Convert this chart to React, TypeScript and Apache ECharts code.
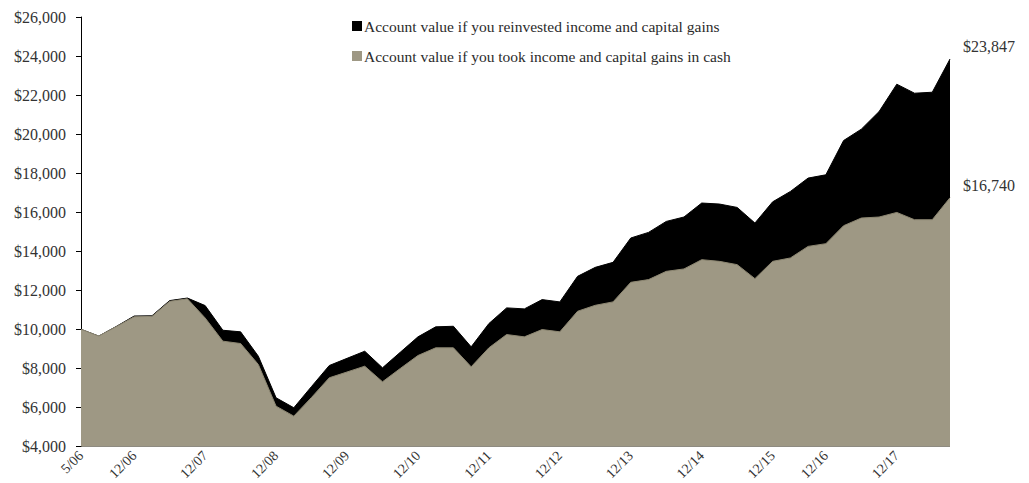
import React, { useEffect, useRef } from "react";
import * as echarts from "echarts";

const categories: string[] = [
  "5/06", "6/06", "9/06", "12/06",
  "3/07", "6/07", "9/07", "12/07",
  "3/08", "6/08", "9/08", "12/08",
  "3/09", "6/09", "9/09", "12/09",
  "3/10", "6/10", "9/10", "12/10",
  "3/11", "6/11", "9/11", "12/11",
  "3/12", "6/12", "9/12", "12/12",
  "3/13", "6/13", "9/13", "12/13",
  "3/14", "6/14", "9/14", "12/14",
  "3/15", "6/15", "9/15", "12/15",
  "6/16", "9/16", "12/16",
  "3/17", "6/17", "9/17", "12/17",
  "3/18", "6/18", "9/18",
];

const reinvested: number[] = [
  10000, 9650, 10150, 10680, 10690, 11470, 11600, 11215, 9950, 9870,
  8620, 6490, 5980, 7070, 8144, 8510, 8876, 8026, 8820, 9612,
  10124, 10155, 9100, 10293, 11096, 11045, 11520, 11403, 12713, 13173,
  13429, 14677, 14964, 15526, 15752, 16468, 16417, 16243, 15444, 16530,
  17061, 17747, 17915, 19670, 20253, 21154, 22556, 22095, 22146, 23847,
];

const cash: number[] = [
  10000, 9650, 10140, 10640, 10660, 11430, 11560, 10580, 9390, 9270,
  8195, 6060, 5550, 6510, 7515, 7811, 8108, 7310, 7990, 8656,
  9050, 9050, 8077, 9050, 9730, 9612, 9986, 9870, 10922, 11229,
  11403, 12406, 12544, 12968, 13091, 13567, 13480, 13311, 12595, 13480,
  13654, 14247, 14385, 15306, 15700, 15751, 15987, 15613, 15613, 16740,
];

const seriesNames: string[] = [
  "Account value if you reinvested income and capital gains",
  "Account value if you took income and capital gains in cash",
];

const FONT = "Liberation Serif";
const GRAY = "#9e9884";

const fmtMoney = (v: number) => "$" + Math.round(v).toLocaleString("en-US");

export default function App() {
  const ref = useRef<HTMLDivElement>(null);
  useEffect(() => {
    document.body.style.margin = "0";
    if (!ref.current) return;
    const chart = echarts.init(ref.current, undefined, { renderer: "svg" });
    chart.setOption({
      animation: false,
      backgroundColor: "#ffffff",
      textStyle: { fontFamily: FONT },
      grid: { left: 81, right: 79, top: 17, bottom: 36, containLabel: false },
      legend: {
        orient: "vertical",
        left: 347,
        top: 13,
        itemWidth: 10,
        itemHeight: 10,
        itemGap: 14,
        icon: "rect",
        selectedMode: false,
        textStyle: { fontFamily: FONT, fontSize: 15.5, color: "#2b2b2b", lineHeight: 15, padding: [0, 0, 0, -3] },
        data: seriesNames,
      },
      xAxis: {
        type: "category",
        data: categories,
        boundaryGap: false,
        axisLine: { show: false },
        axisTick: { show: false },
        axisLabel: {
          interval: (index: number, value: string) => index === 0 || value.startsWith("12/"),
          rotate: 45,
          fontFamily: FONT,
          fontSize: 14,
          color: "#333333",
          margin: 7,
        },
        splitLine: { show: false },
      },
      yAxis: {
        type: "value",
        min: 4000,
        max: 26000,
        interval: 2000,
        axisLine: { show: true, lineStyle: { color: "#000000", width: 1 } },
        axisTick: { show: true, inside: false, length: 5, lineStyle: { color: "#000000" } },
        axisLabel: {
          formatter: (v: number) => fmtMoney(v),
          fontFamily: FONT,
          fontSize: 16,
          color: "#333333",
          margin: 15,
        },
        splitLine: { show: false },
      },
      series: [
        {
          name: seriesNames[0],
          type: "line",
          data: reinvested,
          symbol: "none",
          color: "#000000",
          lineStyle: { color: "#000000", width: 1 },
          areaStyle: { color: "#000000", opacity: 1, origin: "start" },
          endLabel: {
            show: true,
            formatter: (p: any) => fmtMoney(p.value),
            fontFamily: FONT,
            fontSize: 16,
            color: "#333333",
            offset: [5, -13],
          },
          z: 2,
        },
        {
          name: seriesNames[1],
          type: "line",
          data: cash,
          symbol: "none",
          color: GRAY,
          lineStyle: { color: "#8d8772", width: 1 },
          areaStyle: { color: GRAY, opacity: 1, origin: "start" },
          endLabel: {
            show: true,
            formatter: (p: any) => fmtMoney(p.value),
            fontFamily: FONT,
            fontSize: 16,
            color: "#333333",
            offset: [5, -12],
          },
          z: 3,
        },
      ],
    });
    return () => chart.dispose();
  }, []);
  return <div ref={ref} style={{ width: 1029, height: 483 }} />;
}
